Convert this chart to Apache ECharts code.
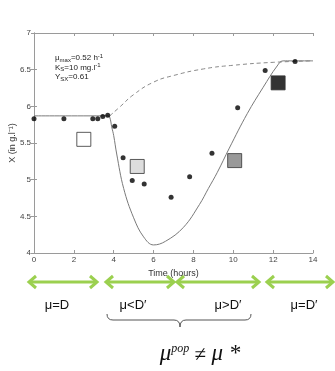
<!DOCTYPE html>
<html>
<head>
<meta charset="utf-8">
<script src="https://cdn.jsdelivr.net/npm/echarts@6/dist/echarts.min.js"></script>
<style>
  html, body { margin: 0; padding: 0; background: #fff; }
  #chart { width: 335px; height: 371px; }
</style>
</head>
<body>
<div id="chart"></div>
<script>
// measured biomass (dots)
var dotT = [0, 1.5, 2.95, 3.2, 3.45, 3.7, 4.05, 4.47, 4.93, 5.53, 6.88, 7.81, 8.93, 10.22, 11.6, 13.1];
var dotX = [5.83, 5.83, 5.83, 5.83, 5.86, 5.88, 5.73, 5.30, 4.99, 4.94, 4.76, 5.04, 5.36, 5.98, 6.49, 6.61];

// model, solid curve
var solidT = [0, 3.7, 3.8, 3.9, 4.0, 4.15, 4.5, 5.0, 5.5, 6.0, 6.6, 7.5, 8.3, 8.75, 9.2, 9.8, 10.7, 11.5, 12.2, 12.5, 14];
var solidX = [5.87, 5.87, 5.85, 5.72, 5.6, 5.35, 4.88, 4.48, 4.22, 4.11, 4.16, 4.35, 4.66, 4.88, 5.1, 5.43, 5.9, 6.26, 6.55, 6.62, 6.62];

// model, dashed curve
var dashT = [3.8, 4.3, 5.0, 6.0, 7.0, 8.5, 10, 12, 14];
var dashX = [5.87, 5.99, 6.16, 6.33, 6.42, 6.51, 6.56, 6.60, 6.62];

// squares (sampling points)
var squareT = [2.5, 5.18, 10.07, 12.25];
var squareX = [5.55, 5.18, 5.26, 6.32];

// phase labels
var phaseLabels = ['μ=D', 'μ<D\u2032', 'μ>D\u2032', 'μ=D\u2032'];

function pairs(a, b) {
    var out = [];
    for (var i = 0; i < a.length; i++) out.push([a[i], b[i]]);
    return out;
}

var chart = echarts.init(document.getElementById('chart'));

var squareFill = ['#ffffff', '#d4d4d4', '#808080', '#000000'];
var axisGray = '#9a9a9a';
var green = '#9bd04f';

var baseX = {
    type: 'value', min: 0, max: 14, interval: 2,
    axisLine: { show: true, lineStyle: { color: axisGray, width: 1 } },
    axisTick: { show: true, inside: true, length: 3, lineStyle: { color: axisGray } },
    splitLine: { show: false }
};
var baseY = {
    type: 'value', min: 4, max: 7, interval: 0.5,
    axisLine: { show: true, lineStyle: { color: axisGray, width: 1 } },
    axisTick: { show: true, inside: true, length: 3, lineStyle: { color: axisGray } },
    splitLine: { show: false }
};

// green double arrows under the axis
var arrows = [[28, 98], [105, 175], [176, 260], [266, 334]];
var arrowY = 282;
var graphics = [];
arrows.forEach(function (a) {
    graphics.push({ type: 'line', shape: { x1: a[0] + 1, y1: arrowY, x2: a[1] - 1, y2: arrowY },
        style: { stroke: green, lineWidth: 3 } });
    graphics.push({ type: 'polyline', shape: { points: [[a[0] + 8, arrowY - 6], [a[0] + 1, arrowY], [a[0] + 8, arrowY + 6]] },
        style: { stroke: green, lineWidth: 3, fill: null } });
    graphics.push({ type: 'polyline', shape: { points: [[a[1] - 8, arrowY - 6], [a[1] - 1, arrowY], [a[1] - 8, arrowY + 6]] },
        style: { stroke: green, lineWidth: 3, fill: null } });
});
var labelX = [57, 133, 228, 304];
phaseLabels.forEach(function (t, i) {
    graphics.push({ type: 'text', x: labelX[i], y: 305,
        style: { text: t, fontSize: 13, fontFamily: 'Liberation Sans', fill: '#111', align: 'center', verticalAlign: 'middle' } });
});
// brace
var braceStyle = { stroke: '#555', lineWidth: 1, fill: null };
graphics.push({ type: 'bezierCurve', shape: { x1: 107, y1: 314, x2: 113, y2: 320, cpx1: 107, cpy1: 320 }, style: braceStyle });
graphics.push({ type: 'line', shape: { x1: 113, y1: 320, x2: 174, y2: 320 }, style: braceStyle });
graphics.push({ type: 'bezierCurve', shape: { x1: 174, y1: 320, x2: 180, y2: 327, cpx1: 180, cpy1: 320 }, style: braceStyle });
graphics.push({ type: 'bezierCurve', shape: { x1: 180, y1: 327, x2: 186, y2: 320, cpx1: 180, cpy1: 320 }, style: braceStyle });
graphics.push({ type: 'line', shape: { x1: 186, y1: 320, x2: 245, y2: 320 }, style: braceStyle });
graphics.push({ type: 'bezierCurve', shape: { x1: 245, y1: 320, x2: 251, y2: 314, cpx1: 251, cpy1: 320 }, style: braceStyle });
// mu pop text
graphics.push({ type: 'text', x: 200, y: 354,
    style: {
        text: '{m|μ}{p|pop}{u| ≠ }{m|μ *}', align: 'center', verticalAlign: 'middle',
        rich: {
            m: { fontSize: 23, fontFamily: 'Liberation Serif', fontStyle: 'italic', fill: '#111', verticalAlign: 'bottom' },
            u: { fontSize: 21, fontFamily: 'Liberation Serif', fill: '#111', verticalAlign: 'bottom' },
            p: { fontSize: 12, fontFamily: 'Liberation Serif', fontStyle: 'italic', fill: '#111', verticalAlign: 'top' }
        }
    } });
// parameter annotation
var annot = [
    '{n|μ}{b|max}{n|=0.52 h}{t|-1}',
    '{n|K}{b|S}{n|=10 mg.l}{t|-1}',
    '{n|Y}{b|SX}{n|=0.61}'
];
var rich = {
    n: { fontSize: 8, fontFamily: 'Liberation Sans', fill: '#222', lineHeight: 10 },
    b: { fontSize: 6, fontFamily: 'Liberation Sans', fill: '#222', verticalAlign: 'bottom' },
    t: { fontSize: 6, fontFamily: 'Liberation Sans', fill: '#222', verticalAlign: 'top' }
};
annot.forEach(function (t, i) {
    graphics.push({ type: 'text', x: 55, y: 58 + i * 9.5,
        style: { text: t, rich: rich, align: 'left', verticalAlign: 'middle' } });
});

var option = {
    animation: false,
    backgroundColor: '#fff',
    grid: { left: 34, top: 33, width: 279, height: 220, containLabel: false, outerBoundsMode: 'none' },
    xAxis: [
        Object.assign({}, baseX, {
            position: 'bottom',
            name: 'Time (hours)', nameLocation: 'middle', nameGap: 13,
            nameTextStyle: { fontSize: 9, color: '#333', fontFamily: 'Liberation Sans' },
            axisLabel: { fontSize: 8, color: '#444', margin: 3, fontFamily: 'Liberation Sans' }
        }),
        Object.assign({}, baseX, { position: 'top', axisLabel: { show: false } })
    ],
    yAxis: [
        Object.assign({}, baseY, {
            position: 'left',
            name: 'X (in g.l\u207B\u00B9)', nameLocation: 'middle', nameGap: 17, nameMoveOverlap: false,
            nameTextStyle: { fontSize: 9, color: '#333', fontFamily: 'Liberation Sans' },
            axisLabel: { fontSize: 8, color: '#444', margin: 3, fontFamily: 'Liberation Sans' }
        }),
        Object.assign({}, baseY, { position: 'right', axisLabel: { show: false } })
    ],
    series: [
        {
            type: 'line', data: pairs(dashT, dashX), showSymbol: false, smooth: 0.5,
            lineStyle: { color: '#8a8a8a', width: 1, type: [4, 3] }, z: 2
        },
        {
            type: 'line', data: pairs(solidT, solidX), showSymbol: false, smooth: 0.4,
            lineStyle: { color: '#7a7a7a', width: 1 }, z: 3
        },
        {
            type: 'scatter', data: pairs(dotT, dotX), symbol: 'circle', symbolSize: 5,
            itemStyle: { color: '#000' }, z: 4
        },
        {
            type: 'scatter',
            data: pairs(squareT, squareX).map(function (p, i) {
                return { value: p, itemStyle: { color: squareFill[i] } };
            }),
            symbol: 'rect', symbolSize: 14,
            itemStyle: { borderColor: '#333', borderWidth: 1 }, z: 5
        }
    ],
    graphic: graphics
};
chart.setOption(option);
</script>
</body>
</html>
